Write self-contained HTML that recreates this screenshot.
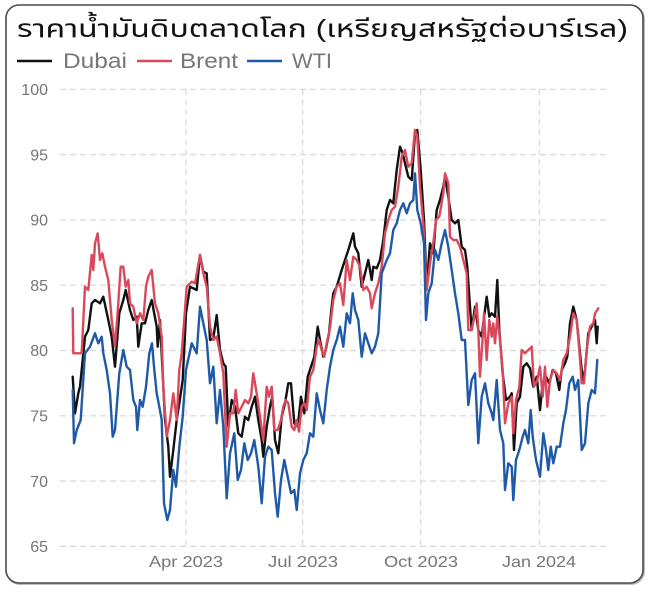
<!DOCTYPE html>
<html><head><meta charset="utf-8"><style>
html,body{margin:0;padding:0;background:#fff;}
svg{display:block;}
</style></head><body>
<svg width="649" height="590" viewBox="0 0 649 590" xmlns="http://www.w3.org/2000/svg">
<rect x="0" y="0" width="649" height="590" fill="#fff"/>
<rect x="7" y="6" width="637" height="578" rx="13" ry="13" fill="none" stroke="#bbb" stroke-width="2"/>
<rect x="6" y="5" width="637" height="578" rx="13" ry="13" fill="#fff" stroke="#4a4a4a" stroke-width="1.6"/>

<text x="17" y="37" font-family="'Liberation Sans','Noto Sans Thai','Garuda','Loma','DejaVu Sans',sans-serif" font-size="25" fill="#111" textLength="611" lengthAdjust="spacingAndGlyphs">ราคาน้ำมันดิบตลาดโลก (เหรียญสหรัฐต่อบาร์เรล)</text>

<g stroke-width="2.5">
<line x1="17" y1="61" x2="52" y2="61" stroke="#111"/>
<line x1="137" y1="61" x2="172" y2="61" stroke="#d9495b"/>
<line x1="247" y1="61" x2="282" y2="61" stroke="#1f5aa8"/>
</g>
<g font-family="'Liberation Sans',sans-serif" font-size="21" fill="#767676">
<text x="63" y="68" textLength="64" lengthAdjust="spacingAndGlyphs">Dubai</text>
<text x="180" y="68" textLength="58" lengthAdjust="spacingAndGlyphs">Brent</text>
<text x="292" y="68" textLength="40" lengthAdjust="spacingAndGlyphs">WTI</text>
</g>

<g stroke="#d8d8d8" stroke-width="1.2" stroke-dasharray="6,4" fill="none">
<line x1="60" y1="89.3" x2="610" y2="89.3"/>
<line x1="60" y1="154.6" x2="610" y2="154.6"/>
<line x1="60" y1="219.9" x2="610" y2="219.9"/>
<line x1="60" y1="285.2" x2="610" y2="285.2"/>
<line x1="60" y1="350.5" x2="610" y2="350.5"/>
<line x1="60" y1="415.8" x2="610" y2="415.8"/>
<line x1="60" y1="481.1" x2="610" y2="481.1"/>
<line x1="60" y1="546.4" x2="610" y2="546.4"/>
<line x1="186" y1="89.3" x2="186" y2="546.4"/>
<line x1="302.7" y1="89.3" x2="302.7" y2="546.4"/>
<line x1="420.7" y1="89.3" x2="420.7" y2="546.4"/>
<line x1="539.3" y1="89.3" x2="539.3" y2="546.4"/>
</g>

<g font-family="'Liberation Sans',sans-serif" font-size="16" fill="#767676" text-anchor="end">
<text x="48" y="95">100</text>
<text x="48" y="160.3">95</text>
<text x="48" y="225.6">90</text>
<text x="48" y="290.9">85</text>
<text x="48" y="356.2">80</text>
<text x="48" y="421.5">75</text>
<text x="48" y="486.8">70</text>
<text x="48" y="552.1">65</text>
</g>
<g font-family="'Liberation Sans',sans-serif" font-size="16" fill="#767676">
<text x="149" y="567" textLength="74" lengthAdjust="spacingAndGlyphs">Apr 2023</text>
<text x="268" y="567" textLength="70" lengthAdjust="spacingAndGlyphs">Jul 2023</text>
<text x="384" y="567" textLength="74" lengthAdjust="spacingAndGlyphs">Oct 2023</text>
<text x="502" y="567" textLength="74" lengthAdjust="spacingAndGlyphs">Jan 2024</text>
</g>

<g fill="none" stroke-width="2.4" stroke-linejoin="round" stroke-linecap="round">
<polyline stroke="#111" points="72.7,376.7 75,413.3 78.3,393.3 80,386.7 85,336.7 88.3,330 91.7,303.3 95,300 100,303.3 103.3,296.7 108.3,320 111.7,336.7 115,366.7 119.3,313.3 123.3,300 125.7,290 130,310 133.3,320 136.7,316.7 138.3,346.7 141.7,323.3 145,323.3 148.3,310 151.7,300 156.7,326.7 157.7,346.7 160,320 165,420 168.3,446.7 170,476.7 173.3,450 176.7,420 179.3,403.3 182.7,380 186,313.3 190,286.7 196.7,290 200,255 203.3,271.7 206.7,273.3 210,340 213.3,338.3 216.7,315 220,350 223.3,363.3 225.7,366.7 228.3,426.7 231.7,400 235,406.7 238.3,433.3 241.7,436.7 245,416.7 248.3,420 251.7,406.7 255,396.7 258.3,420 261.7,440 263.3,456.7 266.7,426.7 270,406.7 272.3,396.7 275,440 278.3,453.3 281.7,416.7 285,403.3 288.3,383.3 291,383.3 294.3,423.3 297.7,426.7 301,396.7 304.3,413.3 307.7,376.7 311,366.7 314.3,356.7 317.7,326.7 320,340 323.3,356.7 325.7,350 329,333.3 331.7,306.7 333.3,293.3 336.7,286.7 341.7,270 345,260 348.3,250 353.3,233.3 355,246.7 358.3,253.3 361.7,286.7 365,273.3 368.3,260 371.7,280 373.3,266.7 376.7,268.3 380,260 383.3,240 386.7,210 390,200 393.3,203.3 396.7,170 400,146.7 402.7,153.3 405,163.3 408.3,176.7 411.7,180 415,133.3 417.3,130 420.7,170 424,220 426.7,286.7 430,243.3 433.3,253.3 436.7,210 440,200 443.3,186.7 445,176.7 448.3,196.7 451.7,220 455,223.3 458.3,220 461.7,246.7 465,250 467.3,266.7 470,306.7 471.7,330 475,306.7 478.3,330 481.7,336.7 485,310 486.7,296.7 489.3,316.7 491.7,313.3 495,316.7 497.3,280 499.3,330 502.7,373.3 506,400 510,396.7 511.7,393.3 514,450 516.7,403.3 520,396.7 523.3,366.7 526.7,363.3 530,368.3 533.3,386.7 536.7,376.7 540,410 542.7,383.3 546,376.7 549.3,383.3 552.7,370 556,373.3 559.3,390 561.7,370 565,363.3 567.3,356.7 570,323.3 573.3,306.7 576.7,320 580,353.3 582.7,380 585,370 588.3,333.3 591.7,326.7 595,320 596.7,343.3 597.7,326.7"/>
<polyline stroke="#d9495b" points="72.7,308.3 73.3,353.3 76.7,353.3 81.7,353.3 85,286.7 88.3,290 91.7,255 93.3,270 95,243.3 97.7,233.3 100,260 102.3,253.3 105,266.7 108.3,280 111.7,320 115,346.7 118.3,303.3 120.7,266.7 123.3,266.7 125.7,286.7 128.3,280 130,303.3 133.3,306.7 136.7,323.3 140,313.3 143.3,320 146,286.7 148.3,276.7 151.7,270 155,303.3 158.3,313.3 161.7,336.7 163.3,386.7 166.7,436.7 170,420 173.3,393.3 176.7,420 179.3,370 181.7,353.3 186.7,286.7 191.7,281.7 195,283.3 200,255 203.3,273.3 206.7,286.7 210,326.7 213.3,340 216.7,336.7 220,353.3 223.3,373.3 226.7,446.7 230,413.3 233.3,413.3 235.7,390 238.3,413.3 241.7,406.7 245,400 248.3,403.3 251,396.7 253.3,373.3 256.7,393.3 260,416.7 263.3,440 266.7,386.7 269,396.7 271.7,386.7 274.3,430 277.7,430 281,420 283.3,406.7 285.7,400 288.3,403.3 291.7,426.7 294.3,430 296.7,420 299,431.7 301.7,406.7 304.3,403.3 306.7,410 310,376.7 313.3,370 316.7,346.7 319,340 321.7,350 324.3,356.7 326.7,343.3 330,328 333.3,300 336.7,286.7 340,283.3 343.3,305 346.7,260 350,280 353.3,256.7 356.7,260 360,266.7 363.3,290 366.7,286.7 370,293.3 371.7,308.3 375,293.3 378.3,283.3 381.7,266.7 385,233.3 388.3,220 391.7,210 395,206.7 398.3,186.7 401.7,156.7 405,150 408.3,166.7 411.7,163.3 415,130 417.3,136.7 420,186.7 423.3,223.3 426.7,290 430,263.3 433.3,243.3 436,220 439.3,216.7 443.3,193.3 445,173.3 448.3,183.3 450,236.7 453.3,240 456.7,240 460,246.7 463.3,260 466.7,273.3 468.3,330 471.7,330 475,313.3 476.7,303.3 478.3,330 480,376.7 482.7,336.7 484,313.3 486.7,360 489.3,320 491.7,336.7 493.3,323.3 495,343.3 497.3,316.7 500,340 502.7,370 505,423.3 508.3,403.3 511.7,396.7 513.3,433.3 516,400 519.3,386.7 521.7,350 525,353.3 528.3,350 531.7,346.7 534,386.7 537.3,380 540,366.7 542.7,396.7 545,366.7 547.3,406.7 550,380 553.3,370 556.7,373.3 560,380 563.3,360 566.7,353.3 570,336.7 573.3,313.3 576.7,320 579.3,350 581.7,383.3 584,383.3 586.7,350 590,326.7 593.3,323.3 595,313.3 597.3,310 598.3,308.3"/>
<polyline stroke="#1f5aa8" points="72.7,390 74,443.3 76.7,430 80.7,420 85,353.3 90,346.7 95,333.3 98.3,343.3 101.7,336.7 103.3,353.3 106.7,370 110,393.3 112.7,436.7 115,430 119.3,373.3 123.3,350 126.7,366.7 130,370 133.3,400 136,406.7 137.3,430 140,400 142.7,406.7 146,386.7 149.3,353.3 152,343.3 154.3,370 156.7,393.3 159.3,406.7 161.7,420 164,503.3 167.3,520 170,510 173.3,470 176,486.7 179.3,446.7 182.7,416.7 186,370 191.7,343.3 196.7,353.3 200,306.7 203.3,323.3 206.7,340 210,383.3 213.3,366.7 216.7,423.3 220,390 223.3,426.7 226.7,498.3 230,453.3 234.3,433.3 237.7,480 241,470 244.3,443.3 247.7,460 251,453.3 254.3,440 258.3,466.7 261.7,503.3 265,456.7 268.3,446.7 271.7,450 275,493.3 277.7,516.7 281,480 284.3,460 287.7,476.7 291,493.3 294.3,490 296.7,510 300,473.3 303.3,460 306.7,453.3 310,433.3 313.3,436.7 316.7,393.3 320,410 323.3,423.3 326.7,390 330,366.7 333.3,350 336.7,340 340,326.7 343.3,346.7 346.7,313.3 350,323.3 352.7,293.3 355,310 358.3,320 361.7,356.7 365,333.3 368.3,343.3 371.7,353.3 375,346.7 378.3,333.3 381.7,273.3 386.7,260 390,253.3 393.3,230 396.7,223.3 400,210 403.3,203.3 406.7,213.3 410,203.3 413.3,200 415,173.3 417.3,210 420.7,223.3 424,243.3 426,320 428.3,293.3 431.7,283.3 435,250 438.3,260 441.7,243.3 445,230 448.3,246.7 451.7,270 455,293.3 458.3,313.3 461.7,340 465,340 468.3,405 471.7,380 475,373.3 478.3,443.3 481.7,396.7 485,383.3 488.3,403.3 491.7,413.3 493.3,420 496.7,380 500,430 503.3,443.3 505,490 508.3,463.3 511.7,466.7 513.3,500 516,460 519.3,450 522.7,436.7 525,430 528.3,443.3 530.7,410 532.7,436.7 536,460 540,476.7 543.3,433.3 546,450 548.3,470 550.7,446.7 553.3,463.3 556.7,446.7 560,446.7 563.3,423.3 566,410 569.3,383.3 572.7,376.7 575,390 578.3,380 581.7,450 585,443.3 588.3,403.3 591.7,390 595,393.3 597.3,360"/>
</g>
</svg>
</body></html>
